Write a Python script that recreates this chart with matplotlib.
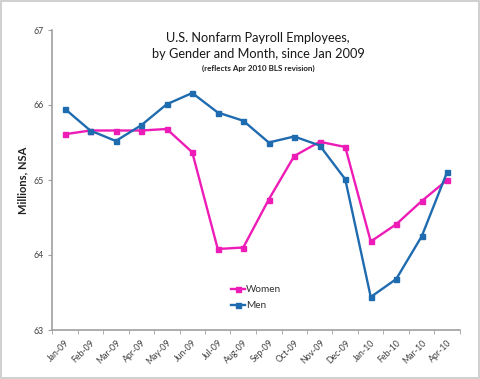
import matplotlib
matplotlib.use("Agg")
import matplotlib.pyplot as plt
from matplotlib.patches import Rectangle
import numpy as np

months = ["Jan-09", "Feb-09", "Mar-09", "Apr-09", "May-09", "Jun-09", "Jul-09", "Aug-09",
          "Sep-09", "Oct-09", "Nov-09", "Dec-09", "Jan-10", "Feb-10", "Mar-10", "Apr-10"]
women = [65.61, 65.66, 65.66, 65.66, 65.68, 65.37, 64.08, 64.10,
         64.74, 65.32, 65.51, 65.44, 64.18, 64.41, 64.72, 65.00]
men = [65.95, 65.66, 65.52, 65.73, 66.01, 66.16, 65.90, 65.79,
       65.50, 65.58, 65.46, 65.01, 63.44, 63.68, 64.25, 65.11]
yticks = [63, 64, 65, 66, 67]

plt.rcParams['font.family'] = ['Lato', 'DejaVu Sans']

fig = plt.figure(figsize=(4.8, 3.79), dpi=100)
fig.patches.append(Rectangle((0.002, 0.003), 0.995, 0.994, transform=fig.transFigure,
                             fill=False, edgecolor='#c8c8c8', linewidth=1.2))

ax = fig.add_axes([52/480, 1-330/379, 408/480, 300/379])
x = np.arange(len(months))
ax.plot(x, women, color='#EE1CB6', marker='s', markersize=3.6, linewidth=1.7, label='Women')
ax.plot(x, men, color='#1F6BB0', marker='s', markersize=3.6, linewidth=1.7, label='Men')

ax.set_xlim(-0.5, len(months) - 0.5)
ax.set_ylim(63, 67)
ax.set_yticks(yticks)
ax.set_yticklabels([str(v) for v in yticks], fontsize=6.3, color='#404040')
ax.set_xticks(x)
ax.set_xticklabels(months, rotation=45, ha='right', rotation_mode='anchor',
                   fontsize=6.3, color='#404040')
ax.set_xticks(np.arange(-0.5, len(months)), minor=True)
ax.tick_params(axis='x', which='major', length=0, pad=6)
ax.tick_params(axis='x', which='minor', length=3, color='#a0a0a0', direction='out')
ax.tick_params(axis='y', length=3, color='#a0a0a0', direction='out', pad=3)
for s in ['top', 'right']:
    ax.spines[s].set_visible(False)
for s in ['left', 'bottom']:
    ax.spines[s].set_color('#a0a0a0')
    ax.spines[s].set_linewidth(1.2)

ax.set_ylabel('Millions, NSA', fontsize=8, fontweight='bold', color='#202020', labelpad=4)

fig.text(258/480, 1-38/379, 'U.S. Nonfarm Payroll Employees,', ha='center', va='center',
         fontsize=9.2, color='#181818')
fig.text(258/480, 1-54/379, 'by Gender and Month, since Jan 2009', ha='center', va='center',
         fontsize=9.2, color='#181818')
fig.text(258/480, 1-68/379, '(reflects Apr 2010 BLS revision)', ha='center', va='center',
         fontsize=5.8, fontweight='bold', color='#202020')

leg = ax.legend(loc='center', bbox_to_anchor=(256/480, 1-298/379), bbox_transform=fig.transFigure,
                frameon=False, fontsize=7.2, handlelength=1.4, handletextpad=0.1,
                labelspacing=0.7, labelcolor='#303030')

fig.savefig('out.png', dpi=100)
